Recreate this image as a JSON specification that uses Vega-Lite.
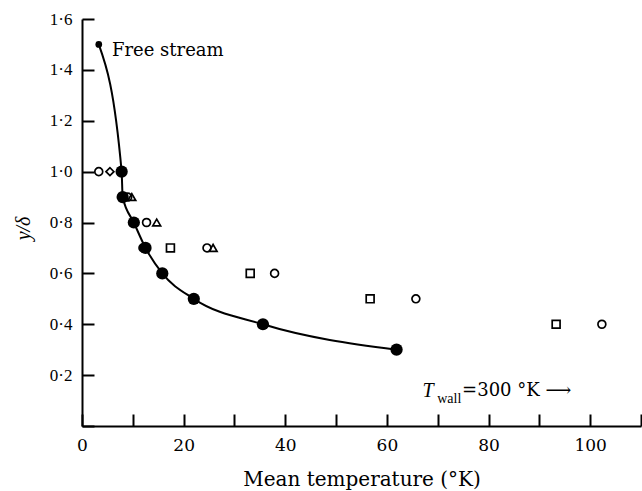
{
  "$schema": "https://vega.github.io/schema/vega-lite/v6.json",
  "autosize": {"type": "none"},
  "width": 559,
  "height": 407,
  "padding": {"left": 82, "top": 19, "right": 1, "bottom": 65},
  "background": "white",
  "config": {
    "view": {"stroke": null},
    "font": "Liberation Serif",
    "axis": {
      "grid": false,
      "domainColor": "black",
      "domainWidth": 2,
      "tickColor": "black",
      "tickWidth": 2,
      "tickSize": -12,
      "labelColor": "black",
      "labelFlush": false,
      "titleColor": "black",
      "titleFontWeight": "normal"
    }
  },
  "layer": [
    {
      "data": {"values": [
        {"t": 3.3, "y": 1.5},
        {"t": 7.8, "y": 1.0},
        {"t": 8.0, "y": 0.9},
        {"t": 10.2, "y": 0.8},
        {"t": 12.5, "y": 0.7},
        {"t": 15.8, "y": 0.6},
        {"t": 22.0, "y": 0.5},
        {"t": 35.6, "y": 0.4},
        {"t": 61.9, "y": 0.3}
      ]},
      "mark": {"type": "line", "color": "black", "strokeWidth": 2, "interpolate": "monotone"},
      "encoding": {
        "x": {"field": "t", "type": "quantitative", "scale": {"domain": [0, 110], "nice": false},
          "axis": {"values": [0,10,20,30,40,50,60,70,80,90,100,110],
            "labelExpr": "datum.value % 20 == 0 && datum.value <= 100 ? datum.label : ''",
            "labelFont": "DejaVu Serif", "labelFontSize": 17, "labelPadding": 23,
            "title": "Mean temperature (°K)", "titleFont": "DejaVu Serif", "titleFontSize": 20,
            "titleY": 53, "titleBaseline": "middle"}},
        "y": {"field": "y", "type": "quantitative", "scale": {"domain": [0, 1.6], "nice": false},
          "axis": {"values": [0,0.1,0.2,0.3,0.4,0.5,0.6,0.7,0.8,0.9,1.0,1.1,1.2,1.3,1.4,1.5,1.6],
            "labelExpr": "datum.value == 0 || round(datum.value*10) % 2 == 1 ? '' : replace(format(datum.value, '.1f'), '.', '·')",
            "labelFont": "Liberation Serif", "labelFontSize": 17, "labelPadding": 22,
            "title": "y/δ", "titleFont": "Liberation Serif", "titleFontSize": 20, "titleFontStyle": "italic",
            "titleX": -59, "titleY": 209, "titleAngle": -90, "titleAlign": "center", "titleBaseline": "middle"}}
      }
    },
    {
      "data": {"values": [
        {"t": 7.8, "y": 1.0},
        {"t": 8.0, "y": 0.9},
        {"t": 10.2, "y": 0.8},
        {"t": 12.5, "y": 0.7},
        {"t": 15.8, "y": 0.6},
        {"t": 22.0, "y": 0.5},
        {"t": 35.6, "y": 0.4},
        {"t": 61.9, "y": 0.3}
      ]},
      "mark": {"type": "circle", "color": "black", "opacity": 1, "size": 150},
      "encoding": {
        "x": {"field": "t", "type": "quantitative"},
        "y": {"field": "y", "type": "quantitative"}
      }
    },
    {
      "data": {"values": [{"t": 3.3, "y": 1.5}]},
      "mark": {"type": "circle", "color": "black", "opacity": 1, "size": 45},
      "encoding": {
        "x": {"field": "t", "type": "quantitative"},
        "y": {"field": "y", "type": "quantitative"}
      }
    },
    {
      "data": {"values": [
        {"t": 3.3, "y": 1.0, "m": "circle"},
        {"t": 5.5, "y": 1.0, "m": "diamond"},
        {"t": 9.0, "y": 0.9, "m": "circle"},
        {"t": 9.8, "y": 0.9, "m": "triangle"},
        {"t": 12.7, "y": 0.8, "m": "circle"},
        {"t": 14.7, "y": 0.8, "m": "triangle"},
        {"t": 12.0, "y": 0.7, "m": "circle"},
        {"t": 17.4, "y": 0.7, "m": "square"},
        {"t": 24.6, "y": 0.7, "m": "circle"},
        {"t": 25.8, "y": 0.7, "m": "triangle"},
        {"t": 33.1, "y": 0.6, "m": "square"},
        {"t": 37.9, "y": 0.6, "m": "circle"},
        {"t": 56.7, "y": 0.5, "m": "square"},
        {"t": 65.7, "y": 0.5, "m": "circle"},
        {"t": 93.3, "y": 0.4, "m": "square"},
        {"t": 102.3, "y": 0.4, "m": "circle"}
      ]},
      "mark": {"type": "point", "filled": false, "color": "black", "strokeWidth": 1.7, "size": 62, "opacity": 1},
      "encoding": {
        "x": {"field": "t", "type": "quantitative"},
        "y": {"field": "y", "type": "quantitative"},
        "shape": {"field": "m", "type": "nominal", "legend": null,
          "scale": {"domain": ["circle", "diamond", "triangle", "square"], "range": ["circle", "diamond", "triangle-up", "square"]}}
      }
    },
    {
      "data": {"values": [{"t": 5.9, "y": 1.475, "label": "Free stream"}]},
      "mark": {"type": "text", "align": "left", "baseline": "middle", "fontSize": 18, "font": "DejaVu Serif", "color": "black"},
      "encoding": {
        "x": {"field": "t", "type": "quantitative"},
        "y": {"field": "y", "type": "quantitative"},
        "text": {"field": "label"}
      }
    },
    {
      "data": {"values": [{"t": 67.0, "y": 0.138, "label": "T"}]},
      "mark": {"type": "text", "align": "left", "baseline": "middle", "fontSize": 20, "fontStyle": "italic", "font": "Liberation Serif", "color": "black"},
      "encoding": {
        "x": {"field": "t", "type": "quantitative"},
        "y": {"field": "y", "type": "quantitative"},
        "text": {"field": "label"}
      }
    },
    {
      "data": {"values": [{"t": 69.9, "y": 0.106, "label": "wall"}]},
      "mark": {"type": "text", "align": "left", "baseline": "middle", "fontSize": 14, "font": "Liberation Serif", "color": "black"},
      "encoding": {
        "x": {"field": "t", "type": "quantitative"},
        "y": {"field": "y", "type": "quantitative"},
        "text": {"field": "label"}
      }
    },
    {
      "data": {"values": [{"t": 74.8, "y": 0.138, "label": "=300 °K ⟶"}]},
      "mark": {"type": "text", "align": "left", "baseline": "middle", "fontSize": 18, "font": "DejaVu Serif", "color": "black"},
      "encoding": {
        "x": {"field": "t", "type": "quantitative"},
        "y": {"field": "y", "type": "quantitative"},
        "text": {"field": "label"}
      }
    }
  ]
}
